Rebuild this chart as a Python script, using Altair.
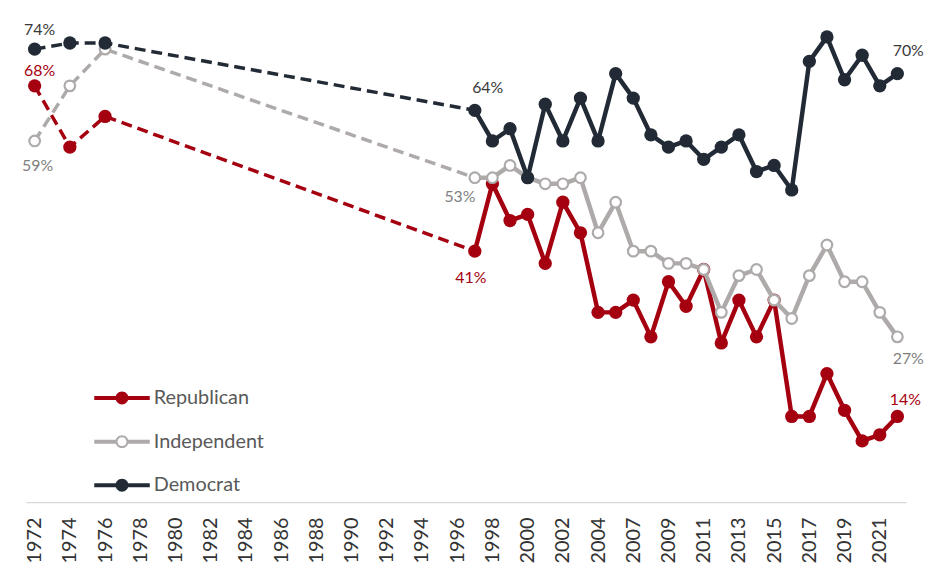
import altair as alt
import pandas as pd

# ---------------- data ----------------
parties = ["Republican", "Independent", "Democrat"]
colors = ["#a50010", "#aeaaaa", "#222a35"]
label_colors = ["#a50010", "#7f7f7f", "#3a3a3a"]

years_all = [str(y) for y in range(1972, 2006)] + [str(y) for y in range(2007, 2023)]
tick_years = [str(y) for y in range(1972, 2005, 2)] + [str(y) for y in range(2007, 2022, 2)]

years_early = ["1972", "1974", "1976", "1997"]
years_recent = [str(y) for y in range(1997, 2006)] + [str(y) for y in range(2007, 2023)]

rep_early = [68, 58, 63, 41]
ind_early = [59, 68, 74, 53]
dem_early = [74, 75, 75, 64]

rep_recent = [41, 52, 46, 47, 39, 49, 44, 31, 31,
              33, 27, 36, 32, 38, 26, 33, 27, 33, 14, 14, 21, 15, 10, 11, 14]
ind_recent = [53, 53, 55, 53, 52, 52, 53, 44, 49,
              41, 41, 39, 39, 38, 31, 37, 38, 33, 30, 37, 42, 36, 36, 31, 27]
dem_recent = [64, 59, 61, 53, 65, 59, 66, 59, 70,
              66, 60, 58, 59, 56, 58, 60, 54, 55, 51, 72, 76, 69, 73, 68, 70]

early = {"Republican": rep_early, "Independent": ind_early, "Democrat": dem_early}
recent = {"Republican": rep_recent, "Independent": ind_recent, "Democrat": dem_recent}

rows_early, rows_recent = [], []
for p in parties:
    for y, v in zip(years_early, early[p]):
        rows_early.append({"year": y, "party": p, "value": v})
    for y, v in zip(years_recent, recent[p]):
        rows_recent.append({"year": y, "party": p, "value": v})
df_early = pd.DataFrame(rows_early)
df_recent = pd.DataFrame(rows_recent)
df_points = pd.concat([df_early[df_early.year != "1997"], df_recent], ignore_index=True)

# ---------------- encodings ----------------
FONT = "Lato"
x_enc = alt.X(
    "year:O",
    sort=years_all,
    scale=alt.Scale(domain=years_all, padding=0.5),
    axis=alt.Axis(
        values=tick_years, title=None, labelAngle=-90, ticks=False,
        labelPadding=15, labelFontSize=20, labelFont=FONT,
        labelColor="#333333", domainColor="#d9d9d9", domainWidth=1.5,
        grid=False,
    ),
)
y_enc = alt.Y("value:Q", scale=alt.Scale(domain=[0, 80]), axis=None)

layers = []

# legend-only layer
leg_filled = ("M-1.333,-0.095L1.333,-0.095L1.333,0.095L-1.333,0.095Z"
              "M-0.31,0A0.31,0.31,0,1,1,0.31,0A0.31,0.31,0,1,1,-0.31,0Z")
leg_ring = ("M-1.333,-0.095L-0.29,-0.095L-0.29,0.095L-1.333,0.095Z"
            "M0.29,-0.095L1.333,-0.095L1.333,0.095L0.29,0.095Z"
            "M-0.31,0A0.31,0.31,0,1,1,0.31,0A0.31,0.31,0,1,1,-0.31,0Z"
            "M-0.214,0A0.214,0.214,0,1,0,0.214,0A0.214,0.214,0,1,0,-0.214,0Z")
legend = alt.Legend(
    title=None, orient="none", legendX=76, legendY=368, padding=0,
    symbolSize=1764, symbolOpacity=1, symbolStrokeWidth=0, rowPadding=13,
    labelOffset=11, labelFont=FONT, labelFontSize=20, labelColor="#595959",
    labelLimit=300,
)
leg_df = pd.DataFrame({"party": parties})
layers.append(
    alt.Chart(leg_df).mark_point(filled=True, opacity=0).encode(
        color=alt.Color("party:N", scale=alt.Scale(domain=parties, range=colors), legend=legend),
        shape=alt.Shape("party:N", scale=alt.Scale(domain=parties, range=[leg_filled, leg_ring, leg_filled]), legend=legend),
    )
)

for p, c in zip(parties, colors):
    flt = alt.datum.party == p
    layers.append(
        alt.Chart(df_early).transform_filter(flt).mark_line(
            color=c, strokeWidth=3.5, strokeDash=[11, 6]
        ).encode(x=x_enc, y=y_enc)
    )
    layers.append(
        alt.Chart(df_recent).transform_filter(flt).mark_line(
            color=c, strokeWidth=4.5, strokeJoin="round"
        ).encode(x=x_enc, y=y_enc)
    )
    if p == "Independent":
        pts = alt.Chart(df_points).transform_filter(flt).mark_point(
            filled=True, fill="white", stroke=c, strokeWidth=2.2, size=115, opacity=1, shape="circle"
        )
    else:
        pts = alt.Chart(df_points).transform_filter(flt).mark_point(
            filled=True, color=c, size=180, opacity=1, shape="circle"
        )
    layers.append(pts.encode(x=x_enc, y=y_enc))

# value labels: (party, year, dx, dy)
label_specs = [
    ("Democrat", "1972", 5, -19), ("Democrat", "1997", 13, -22), ("Democrat", "2022", 11, -23),
    ("Independent", "1972", 3, 25), ("Independent", "1997", -15, 20), ("Independent", "2022", 11, 22),
    ("Republican", "1972", 5, -15), ("Republican", "1997", -4, 27), ("Republican", "2022", 8, -17),
]
lab_color = dict(zip(parties, label_colors))
for p, yr, dx, dy in label_specs:
    layers.append(
        alt.Chart(df_points).transform_filter(
            (alt.datum.party == p) & (alt.datum.year == yr)
        ).transform_calculate(
            lab="datum.value + '%'"
        ).mark_text(
            dx=dx, dy=dy, font=FONT, fontSize=16, color=lab_color[p]
        ).encode(x=x_enc, y=y_enc, text="lab:N")
    )

chart = alt.layer(*layers).properties(
    width=888, height=494,
    padding={"left": 18, "top": 2, "right": 20, "bottom": 64},
    autosize=alt.AutoSizeParams(type="none"),
).configure(background="white", view=alt.ViewConfig(stroke=None))

chart.save("out.html", embed_options={"renderer": "svg", "actions": False})
